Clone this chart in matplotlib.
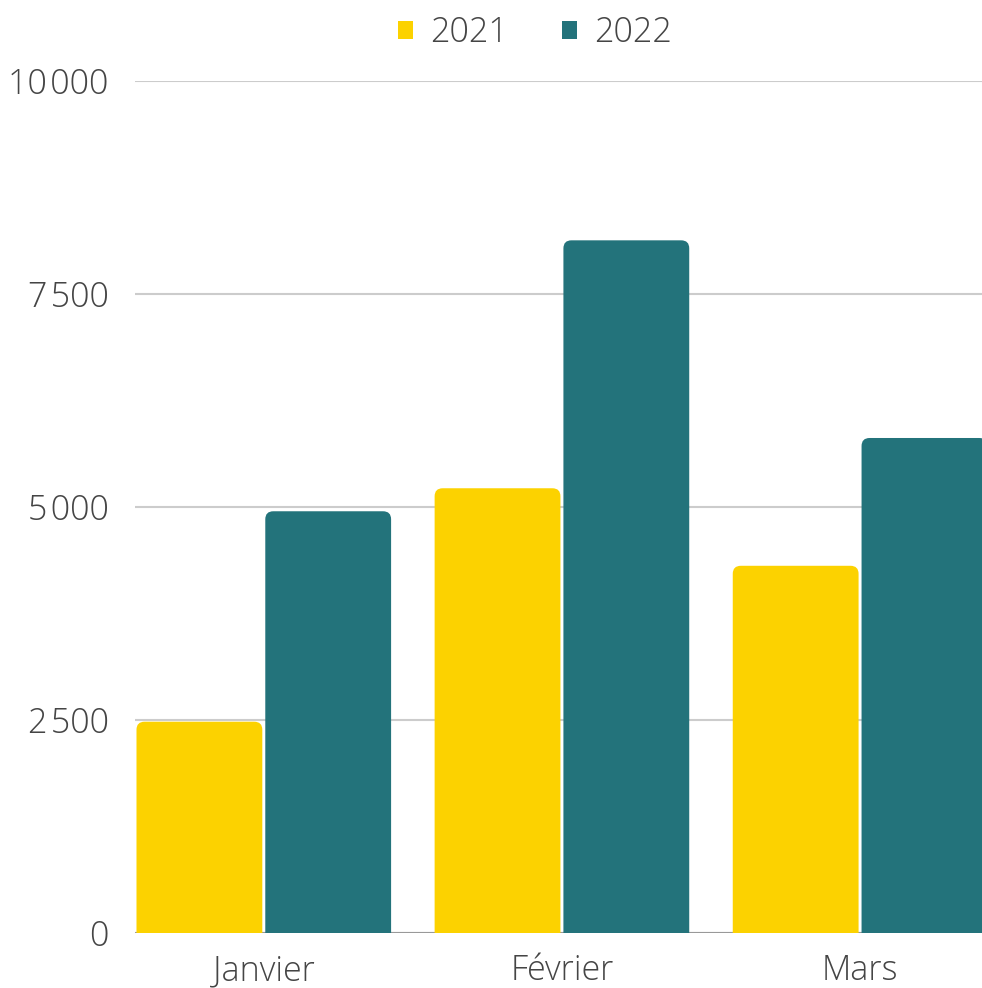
import matplotlib
matplotlib.use("Agg")
import matplotlib.pyplot as plt
from matplotlib.patches import FancyBboxPatch, Patch
import numpy as np

categories = ["Janvier", "Février", "Mars"]
series_names = ["2021", "2022"]
values_2021 = [2480, 5220, 4310]
values_2022 = [4950, 8130, 5810]
y_ticks = [0, 2500, 5000, 7500, 10000]
y_tick_labels = ["0", "2\u200a500", "5\u200a000", "7\u200a500", "10\u200a000"]

YELLOW = "#FCD200"
TEAL = "#23737B"
TEXT = "#454545"

plt.rcParams['font.family'] = ['Open Sans', 'DejaVu Sans']
FS = 24.5

fig = plt.figure(figsize=(9.82, 9.88), dpi=100)
ax = fig.add_axes([135/982, 1-933/988, 1-135/982, (933-81)/988])

x = np.arange(len(categories))
w = 0.422
off = 0.216
b1 = ax.bar(x - off, values_2021, w, color=YELLOW, zorder=3)
b2 = ax.bar(x + off, values_2022, w, color=TEAL, zorder=3)

ax.set_xlim(-0.432, 2.409)
ax.set_ylim(0, 10000)

# rounded top corners
rx = 0.027
ry = 94
for bars, col in ((b1, YELLOW), (b2, TEAL)):
    for r in bars:
        r.set_visible(False)
        x0, wd, h = r.get_x(), r.get_width(), r.get_height()
        p = FancyBboxPatch((x0, -300), wd, h + 300,
                           boxstyle=f"round,pad=0,rounding_size={rx}",
                           mutation_aspect=ry / rx,
                           facecolor=col, edgecolor="none", zorder=3)
        ax.add_patch(p)

ax.set_yticks(y_ticks)
ax.set_yticklabels(y_tick_labels)
ax.set_xticks(x)
ax.set_xticklabels(categories)
ax.tick_params(axis='both', length=0, labelsize=FS, labelcolor=TEXT)
ax.tick_params(axis='y', pad=19)
ax.tick_params(axis='x', pad=15)
for lab in ax.get_xticklabels() + ax.get_yticklabels():
    lab.set_fontweight('light')

ax.grid(axis='y', color='#cccccc', linewidth=1.5, zorder=0)
ax.set_axisbelow(True)
for s in ax.spines.values():
    s.set_visible(False)
ax.axhline(0, color='#999999', linewidth=1.5, zorder=2)

handles = [Patch(facecolor=YELLOW), Patch(facecolor=TEAL)]
leg = fig.legend(handles, series_names, loc='center', bbox_to_anchor=(535/982, 1-33/988),
                 ncol=2, frameon=False, handlelength=0.43, handleheight=0.43,
                 handletextpad=0.5, columnspacing=1.6, labelcolor=TEXT,
                 prop={'weight': 'light', 'size': FS})

fig.savefig("out.png", dpi=100)
